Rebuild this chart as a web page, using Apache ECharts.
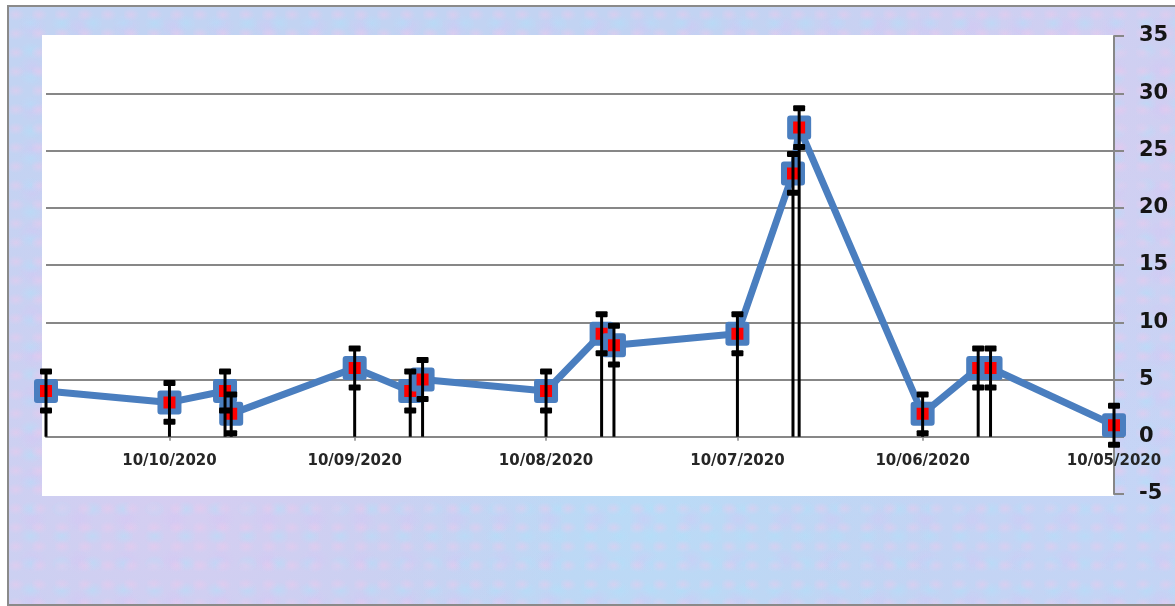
<!DOCTYPE html>
<html>
<head>
<meta charset="utf-8">
<script src="https://cdn.jsdelivr.net/npm/echarts@6/dist/echarts.min.js"></script>
<style>
  html, body { margin: 0; padding: 0; background: #ffffff; }
  #frame {
    position: absolute; left: 7px; top: 5px; width: 1166px; height: 597px;
    border: 2px solid #8a8a8a;
    background-color: #c2d3f2;
    background-image:
      radial-gradient(ellipse at 30% 40%, rgba(240,200,235,0.45) 0, transparent 9px),
      radial-gradient(ellipse at 70% 60%, rgba(175,225,250,0.45) 0, transparent 11px),
      radial-gradient(ellipse at 50% 50%, rgba(215,195,245,0.4) 0, transparent 15px),
      radial-gradient(circle at 15% 80%, rgba(230,200,240,0.55), transparent 35%),
      radial-gradient(circle at 55% 85%, rgba(180,225,250,0.55), transparent 35%),
      radial-gradient(circle at 90% 20%, rgba(230,200,240,0.5), transparent 30%),
      radial-gradient(circle at 95% 75%, rgba(200,215,250,0.5), transparent 30%);
    background-size: 23px 19px, 31px 27px, 47px 41px, 100% 100%, 100% 100%, 100% 100%, 100% 100%;
  }
  #chart { position: absolute; left: 0; top: 0; width: 1175px; height: 606px; }
</style>
</head>
<body>
<div id="frame"></div>
<div id="chart"></div>
<script>
// ---- data ----
const dates = ['2020-10-30','2020-10-10','2020-10-01','2020-09-30','2020-09-10','2020-09-01','2020-08-30','2020-08-10','2020-08-01','2020-07-30','2020-07-10','2020-07-01','2020-06-30','2020-06-10','2020-06-01','2020-05-30','2020-05-10'];
const values = [4, 3, 4, 2, 6, 4, 5, 4, 9, 8, 9, 23, 27, 2, 6, 6, 1];
const errors = [1.7, 1.7, 1.7, 1.7, 1.7, 1.7, 1.7, 1.7, 1.7, 1.7, 1.7, 1.7, 1.7, 1.7, 1.7, 1.7, 1.7];
const xTickDates = ['2020-10-10','2020-09-10','2020-08-10','2020-07-10','2020-06-10','2020-05-10'];
const xRange = ['2020-05-10', '2020-10-30'];
const yMin = -5, yMax = 35, yStep = 5;

function ts(s) { const p = s.split('-').map(Number); return Date.UTC(p[0], p[1] - 1, p[2]); }
function fmt(v) {
  const d = new Date(v);
  const dd = String(d.getUTCDate()).padStart(2, '0');
  const mm = String(d.getUTCMonth() + 1).padStart(2, '0');
  return dd + '/' + mm + '/' + d.getUTCFullYear();
}

const lineData = dates.map((d, i) => [ts(d), values[i]]);
const errData = dates.map((d, i) => [ts(d), values[i], errors[i]]);
const tickVals = xTickDates.map(ts);

const chart = echarts.init(document.getElementById('chart'), null, { renderer: 'canvas' });
const grey = '#878787';
const font = '"DejaVu Sans", sans-serif';
const G = { left: 46, right: 61, top: 36, bottom: 112 };
const plotH = 606 - G.top - G.bottom;
const zeroOffset = -plotH * (0 - yMin) / (yMax - yMin);

chart.setOption({
  backgroundColor: 'transparent',
  animation: false,
  graphic: [{
    type: 'rect', z: -10, silent: true,
    shape: { x: 42, y: 35, width: 1072, height: 461 },
    style: { fill: '#ffffff' }
  }],
  grid: {
    left: G.left, right: G.right, top: G.top, bottom: G.bottom,
    containLabel: false, outerBoundsMode: 'none',
    show: false
  },
  xAxis: {
    type: 'value',
    inverse: true,
    position: 'bottom',
    offset: zeroOffset,
    min: ts(xRange[0]), max: ts(xRange[1]),
    axisLine: { show: true, onZero: false, lineStyle: { color: grey, width: 2 } },
    axisTick: { show: true, customValues: tickVals, length: 4, lineStyle: { color: grey, width: 1.5 } },
    axisLabel: {
      customValues: tickVals, formatter: fmt, margin: 17,
      color: '#262626', fontFamily: font, fontWeight: 'bold', fontSize: 15
    },
    splitLine: { show: false }
  },
  yAxis: {
    type: 'value',
    position: 'right',
    min: yMin, max: yMax, interval: yStep,
    axisLine: { show: true, lineStyle: { color: grey, width: 2 } },
    axisTick: { show: true, length: 10, lineStyle: { color: grey, width: 2 } },
    axisLabel: {
      margin: 25, color: '#151515', fontFamily: font, fontWeight: 'bold', fontSize: 21
    },
    splitLine: { show: true, showMinLine: false, showMaxLine: false, lineStyle: { color: grey, width: 2 } }
  },
  series: [
    {
      type: 'line',
      data: lineData,
      z: 2,
      clip: false,
      lineStyle: { color: '#4a7ebf', width: 7, join: 'round' },
      symbol: 'rect',
      symbolSize: 18,
      itemStyle: { color: '#ff0000', borderColor: '#4a7ebf', borderWidth: 6, borderJoin: 'round' }
    },
    {
      type: 'custom',
      data: errData,
      z: 3,
      clip: false,
      renderItem: function (params, api) {
        const x = api.value(0), y = api.value(1), e = api.value(2);
        const top = api.coord([x, y + e]);
        const bot = api.coord([x, y - e]);
        const zero = api.coord([x, 0]);
        const lowY = Math.max(bot[1], zero[1]);
        const capW = 12, capH = 6;
        return {
          type: 'group',
          children: [
            { type: 'line', shape: { x1: top[0], y1: top[1], x2: top[0], y2: lowY }, style: { stroke: '#000', lineWidth: 3 } },
            { type: 'rect', shape: { x: top[0] - capW / 2, y: top[1] - capH / 2, width: capW, height: capH, r: 1 }, style: { fill: '#000' } },
            { type: 'rect', shape: { x: bot[0] - capW / 2, y: bot[1] - capH / 2, width: capW, height: capH, r: 1 }, style: { fill: '#000' } }
          ]
        };
      }
    }
  ]
});
</script>
</body>
</html>
